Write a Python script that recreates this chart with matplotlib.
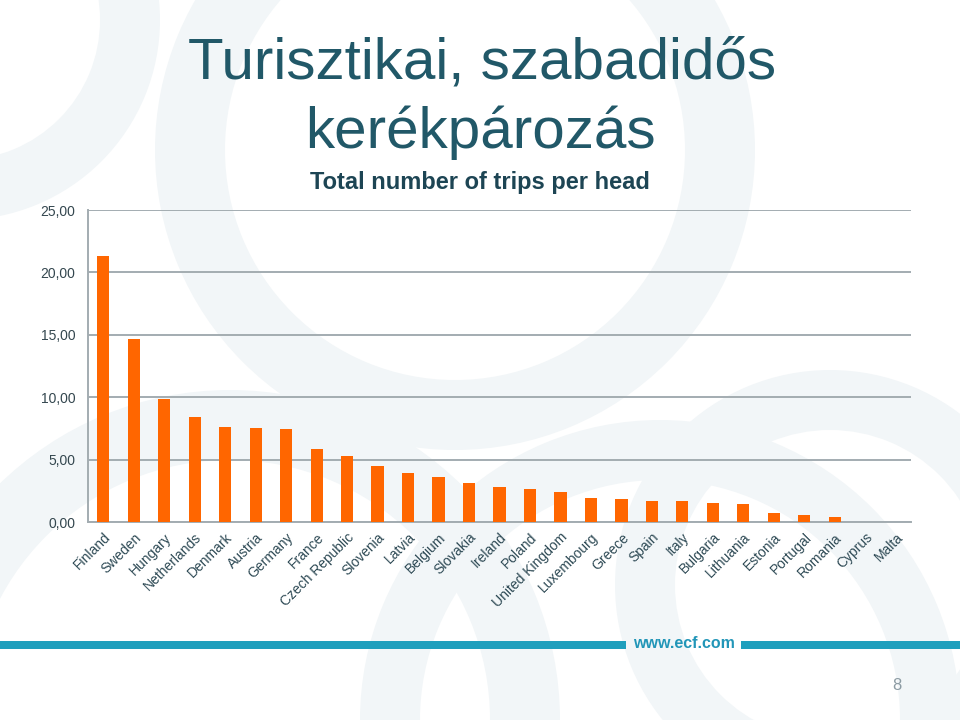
import matplotlib
matplotlib.use("Agg")
import matplotlib.pyplot as plt
from matplotlib.patches import Wedge, Rectangle

countries = ["Finland", "Sweden", "Hungary", "Netherlands", "Denmark", "Austria",
             "Germany", "France", "Czech Republic", "Slovenia", "Latvia", "Belgium",
             "Slovakia", "Ireland", "Poland", "United Kingdom", "Luxembourg", "Greece",
             "Spain", "Italy", "Bulgaria", "Lithuania", "Estonia", "Portugal",
             "Romania", "Cyprus", "Malta"]
trips_per_head = [21.35, 14.68, 9.87, 8.45, 7.65, 7.50, 7.42, 5.83, 5.25, 4.50,
                  3.92, 3.63, 3.13, 2.84, 2.62, 2.40, 1.95, 1.83, 1.72, 1.67,
                  1.56, 1.46, 0.74, 0.60, 0.37, 0.0, 0.0]
y_ticks = [0, 5, 10, 15, 20, 25]
y_tick_labels = ["0,00", "5,00", "10,00", "15,00", "20,00", "25,00"]

title_line1 = "Turisztikai, szabadidős"
title_line2 = "kerékpározás"
subtitle = "Total number of trips per head"

plt.rcParams['font.family'] = ['Liberation Sans', 'DejaVu Sans']

fig = plt.figure(figsize=(9.6, 7.2), dpi=100)
fig.patch.set_facecolor("white")

# decorative background (pixel coordinates)
bg = fig.add_axes([0, 0, 1, 1], zorder=0)
bg.set_xlim(0, 960)
bg.set_ylim(720, 0)
bg.axis("off")
ring_col = "#f2f6f8"
for (cx, cy, r, w) in [(455, 150, 300, 70), (-40, 20, 200, 60), (830, 585, 215, 60),
                       (230, 720, 330, 70), (660, 720, 300, 60)]:
    bg.add_patch(Wedge((cx, cy), r, 0, 360, width=w, facecolor=ring_col,
                       edgecolor="none"))

# bottom band
band_col = "#1f9fbd"
bg.add_patch(Rectangle((0, 641), 626, 8, facecolor=band_col, edgecolor="none"))
bg.add_patch(Rectangle((741, 641), 219, 8, facecolor=band_col, edgecolor="none"))
bg.text(684, 644, "www.ecf.com", ha="center", va="center", fontsize=11.5,
        fontweight="bold", color="#2296b8")
bg.text(897, 686, "8", ha="center", va="center", fontsize=12, color="#8c9ba3")

# titles
bg.text(482, 78, title_line1, ha="center", va="baseline",
        fontsize=42, color="#215868")
bg.text(480, 148, title_line2, ha="center", va="baseline",
        fontsize=42, color="#215868")
bg.text(480, 189, subtitle, ha="center", va="baseline", fontsize=17,
        fontweight="bold", color="#1d4554")

ax = fig.add_axes([88/960, 1-522/720, (911-88)/960, (522-210)/720], zorder=1)
ax.patch.set_alpha(0)
x = list(range(len(countries)))
ax.bar(x, trips_per_head, width=0.4, color="#ff6600", zorder=3)
ax.set_xlim(-0.5, len(countries)-0.5)
ax.set_ylim(0, 25)
ax.set_yticks(y_ticks)
ax.set_yticklabels(y_tick_labels, fontsize=10, color="#34474f")
ax.set_xticks(x)
ax.set_xticklabels(countries, rotation=45, ha="right", rotation_mode="anchor",
                   fontsize=10, color="#2e4a55")
ax.tick_params(axis="both", length=0)
ax.tick_params(axis="y", pad=9)
ax.tick_params(axis="x", pad=6)
ax.grid(axis="y", color="#a3acb1", linewidth=1.4, zorder=1)
for s in ["top", "right"]:
    ax.spines[s].set_visible(False)
for s in ["left", "bottom"]:
    ax.spines[s].set_color("#a3acb1")
    ax.spines[s].set_linewidth(1.4)

fig.savefig("out.png", dpi=100)
